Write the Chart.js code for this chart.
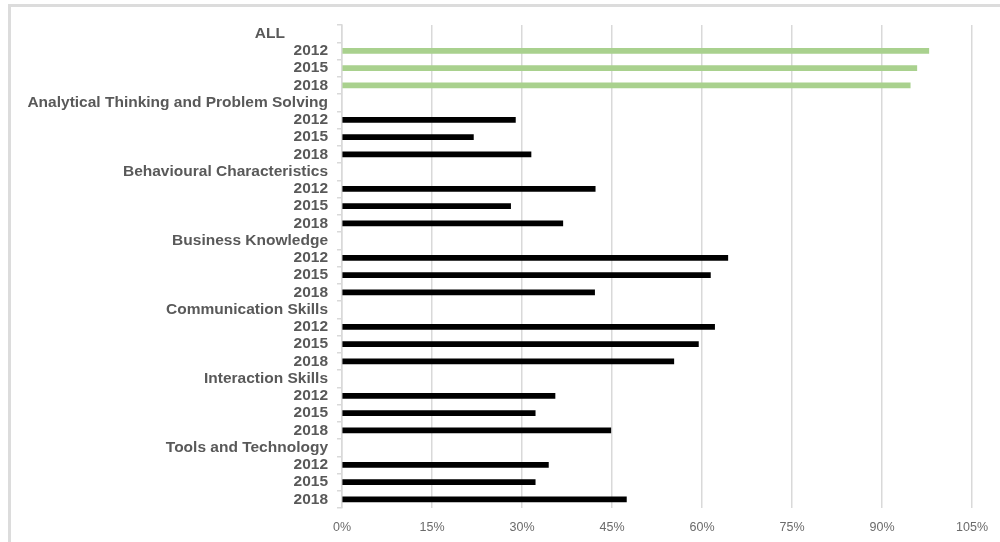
<!DOCTYPE html>
<html>
<head>
<meta charset="utf-8">
<script src="https://cdn.jsdelivr.net/npm/chart.js@4"></script>
<style>
  html, body { margin: 0; padding: 0; background: #fff; }
  #wrap { position: relative; width: 1000px; height: 542px; overflow: hidden; }
  #frame { position: absolute; left: 8px; top: 4px; width: 1100px; height: 700px;
           border-top: 3px solid #dcdcdc; border-left: 3px solid #dcdcdc; }
  canvas { position: absolute; left: 0; top: 0; }
</style>
</head>
<body>
<div id="wrap">
  <div id="frame"></div>
  <canvas id="chart" width="1000" height="542"></canvas>
</div>
<script>
// Skill groups and survey years
const groups = [
  'ALL',
  'Analytical Thinking and Problem Solving',
  'Behavioural Characteristics',
  'Business Knowledge',
  'Communication Skills',
  'Interaction Skills',
  'Tools and Technology'
];
const years = ['2012', '2015', '2018'];

// Share of job ads (%) per group, in year order
const allSkills     = [97.8, 95.8, 94.7];
const analytical    = [28.9, 21.9, 31.5];
const behavioural   = [42.2, 28.1, 36.8];
const business      = [64.3, 61.4, 42.1];
const communication = [62.1, 59.4, 55.3];
const interaction   = [35.5, 32.2, 44.8];
const tools         = [34.4, 32.2, 47.4];

const xTicks = [0, 15, 30, 45, 60, 75, 90, 105];

const groupValues = [allSkills, analytical, behavioural, business, communication, interaction, tools];

// One row for each group header (no bar) followed by a row per year
const labels = [];
const values = [];
const colors = [];
groups.forEach((g, gi) => {
  labels.push(g);
  values.push(null);
  colors.push('#000000');
  years.forEach((y, yi) => {
    labels.push(y);
    values.push(groupValues[gi][yi]);
    colors.push(gi === 0 ? '#a9d18e' : '#000000');
  });
});

new Chart(document.getElementById('chart'), {
  type: 'bar',
  data: {
    labels: labels,
    datasets: [{
      data: values,
      backgroundColor: colors,
      barThickness: 5,
      borderWidth: 0
    }]
  },
  options: {
    indexAxis: 'y',
    responsive: false,
    animation: false,
    layout: { padding: { top: 25, right: 25, bottom: 0, left: 0 } },
    plugins: { legend: { display: false }, tooltip: { enabled: false } },
    scales: {
      x: {
        min: 0,
        max: 105,
        afterBuildTicks: (scale) => { scale.ticks = xTicks.map(v => ({ value: v })); },
        afterFit: (scale) => { scale.height = 34; },
        border: { display: false },
        grid: { color: '#d9d9d9', lineWidth: 1.5, drawTicks: false },
        ticks: {
          padding: 12,
          color: '#6b6b6b',
          font: { family: 'Liberation Sans, Arial, sans-serif', size: 12.5 },
          callback: (v) => v + '%'
        }
      },
      y: {
        afterFit: (scale) => { scale.width = 342; },
        border: { display: true, color: '#d9d9d9', width: 1.5 },
        grid: { drawOnChartArea: false, drawTicks: true, tickLength: 5, color: '#d9d9d9', lineWidth: 1.5 },
        ticks: {
          padding: 9,
          autoSkip: false,
          color: '#595959',
          font: { family: 'Liberation Sans, Arial, sans-serif', size: 15.5, weight: 'bold' },
          // the overall heading sits left of the other labels
          callback: function (v) {
            const t = this.getLabelForValue(v);
            return t === 'ALL' ? t + '\u00a0'.repeat(10) : t;
          }
        }
      }
    }
  }
});
</script>
</body>
</html>
